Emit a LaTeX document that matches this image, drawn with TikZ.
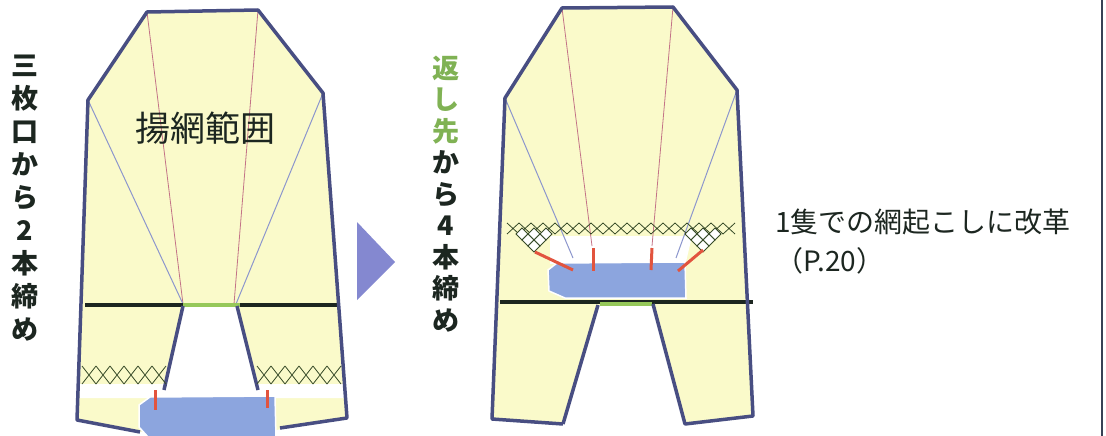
\documentclass[tikz,border=0pt]{standalone}
\usepackage{fontspec}
\newfontfamily\jpfont{Noto Sans CJK JP}
\definecolor{linecol}{RGB}{72,78,130}
\definecolor{fillcol}{RGB}{250,250,202}
\definecolor{pinkcol}{RGB}{195,115,135}
\definecolor{fancol}{RGB}{140,150,205}
\definecolor{ropecol}{RGB}{28,38,32}
\definecolor{greencol}{RGB}{150,200,90}
\definecolor{boatcol}{RGB}{140,165,222}
\definecolor{redcol}{RGB}{226,84,62}
\definecolor{arrowcol}{RGB}{132,136,208}
\definecolor{netcol}{RGB}{55,75,40}
\definecolor{textgreen}{RGB}{128,178,84}
\definecolor{edgecol}{RGB}{55,65,85}
\tikzset{
  outline/.style={linecol,line width=3.5pt,line join=round},
  area/.style={fill=fillcol},
  gap/.style={fill=white},
  pinkline/.style={pinkcol,line width=0.8pt},
  fanline/.style={fancol,line width=1pt},
  rope/.style={ropecol,line width=4pt},
  mouth/.style={greencol,line width=4.5pt},
  boat/.style={fill=boatcol,draw=white,line width=1.5pt},
  tie/.style={redcol,line width=3pt},
  net/.style={netcol,line width=0.8pt},
  vlabel/.style={font={\jpfont\bfseries\fontsize{27}{33}\selectfont},align=center,text=ropecol,inner sep=0pt},
}

\begin{document}
\begin{tikzpicture}[x=1pt,y=-1pt]
  \useasboundingbox (0,0) rectangle (1106,436);

  % left net: closed with two lines
  \fill[area] (147,12) -- (258,10) -- (323,93) -- (347,418) -- (276,430)
    -- (142,432) -- (77,420) -- (88,100) -- cycle;
  \fill[gap] (183,305) -- (237,305) -- (262,398) -- (160,398) -- cycle;
  \fill[gap] (79,384) -- (345,384) -- (346,398) -- (80,398) -- cycle;

  \draw[pinkline] (147,12) -- (183,304);
  \draw[pinkline] (258,10) -- (234,304);
  \draw[fanline] (88,100) -- (183,304);
  \draw[fanline] (323,93) -- (236,304);

  \draw[rope] (85,305) -- (340,305);
  \draw[mouth] (183,305) -- (240,305);

  \draw[outline] (140,432) -- (77,420) -- (88,100) -- (147,12) -- (258,10)
    -- (323,93) -- (347,418) -- (280,428);
  \draw[outline] (183,306) -- (164,390);
  \draw[outline] (237,306) -- (258,390);

  \foreach \i in {0,...,5} {
    \draw[net] ({82+14*\i},366) -- ++(14,18) ++(-14,0) -- ++(14,-18);
    \draw[net] ({257+14*\i},366) -- ++(14,18) ++(-14,0) -- ++(14,-18);
  }

  \draw[boat] (150,397) -- (275,396) -- (276,437) -- (148,437) -- (139,427)
    -- (139,405) -- cycle;
  \draw[tie] (155,390) -- (155,410);
  \draw[tie] (267,390) -- (267,408);

  \fill[arrowcol] (357,222) -- (395,262) -- (357,300) -- cycle;

  % right net: closed with four lines
  \fill[area] (562,8) -- (673,7) -- (737,90) -- (753,416) -- (685,424)
    -- (653,304) -- (598,305) -- (563,424) -- (492,419) -- (505,98) -- cycle;
  \fill[gap] (550,236) -- (692,236) -- (686,262) -- (550,264) -- cycle;

  \draw[pinkline] (562,8) -- (592,246);
  \draw[pinkline] (673,7) -- (652,246);
  \draw[fanline] (505,98) -- (573,258);
  \draw[fanline] (737,90) -- (676,258);

  \draw[rope] (500,302) -- (753,302);
  \draw[mouth] (600,304) -- (652,304);

  \draw[outline] (563,424) -- (492,419) -- (505,98) -- (562,8) -- (673,7)
    -- (737,90) -- (753,416) -- (685,424) -- (653,304);
  \draw[outline] (598,305) -- (563,424);

  \foreach \i in {0,...,18}
    \draw[net] ({507+12*\i},223) -- ++(12,11) ++(-12,0) -- ++(12,-11);
  \foreach \cx/\cy in {522/234,534/234,546/234,528/240,540/240,534/246,
                       691/234,703/234,715/234,697/240,709/240,703/246}
    \draw[net,fill=white] ({\cx},{\cy-6}) -- ({\cx+6},{\cy}) -- ({\cx},{\cy+6})
      -- ({\cx-6},{\cy}) -- cycle;

  \draw[boat] (557,263) -- (685,262) -- (686,298) -- (565,298) -- (549,291)
    -- (548,270) -- cycle;
  \draw[tie] (535,252) -- (573,270);
  \draw[tie] (593,248) -- (593,271);
  \draw[tie] (652,248) -- (651,270);
  \draw[tie] (703,250) -- (678,271);

  \node[vlabel] (twolines) at (25,198) {三\\枚\\口\\か\\ら\\2\\本\\締\\め};
  \node[vlabel,font={\jpfont\bfseries\fontsize{27}{31.5}\selectfont}] (fourlines) at (446,194)
    {{\color{textgreen}返}\\{\color{textgreen}し}\\{\color{textgreen}先}\\か\\ら\\4\\本\\締\\め};
  \node[font={\jpfont\fontsize{35}{40}\selectfont},text=ropecol,inner sep=0pt] (range) at (205,128) {揚網範囲};
  \node[anchor=west,align=left,font={\jpfont\fontsize{28}{39}\selectfont},text=ropecol,inner sep=0pt] (reform) at (775,242)
    {1隻での網起こしに改革\\（P.20）};

  \draw[edgecol,line width=2pt] (1102,0) -- (1102,436);
\end{tikzpicture}
\end{document}
